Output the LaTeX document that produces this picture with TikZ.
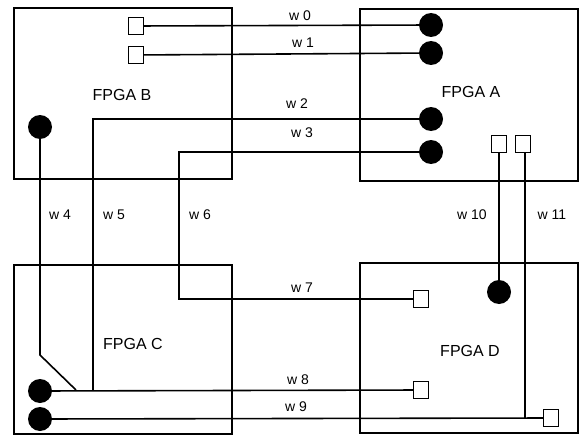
\documentclass[tikz,border=0pt]{standalone}
\usepackage{fontspec}
\setmainfont{Liberation Sans}
\usetikzlibrary{positioning}
\tikzset{
  fpgabox/.style={draw, line width=1.7pt, inner sep=0pt},
  pinsq/.style={draw, fill=white, line width=1.4pt, minimum width=15pt,
    minimum height=17pt, inner sep=0pt},
  pindot/.style={circle, fill=black, minimum size=24pt, inner sep=0pt},
  wire/.style={line width=1.6pt},
  wlabel/.style={font=\fontsize{14}{16}\selectfont, inner sep=0pt},
  fpgalabel/.style={font=\fontsize{16}{18}\selectfont, inner sep=0pt},
}

\begin{document}
\begin{tikzpicture}[x=1pt, y=-1pt]
\useasboundingbox (0, 0) rectangle (581, 436);

% The four FPGAs.
\node[fpgabox, minimum width=218pt, minimum height=171pt] (fpgaB) at (123, 93.5) {};
\node[fpgabox, minimum width=218pt, minimum height=172pt] (fpgaA) at (469, 95) {};
\node[fpgabox, minimum width=218pt, minimum height=169pt] (fpgaC) at (123, 349.5) {};
\node[fpgabox, minimum width=218pt, minimum height=170pt] (fpgaD) at (469, 348) {};
\node[fpgalabel] (nameB) at (122, 95) {FPGA B};
\node[fpgalabel] (nameA) at (471, 92) {FPGA A};
\node[fpgalabel] (nameC) at (133, 344) {FPGA C};
\node[fpgalabel] (nameD) at (470, 351) {FPGA D};

% Pins.
\node[pinsq] (b0) at (136, 26) {};
\node[pinsq] (b1) at (136, 55) {};
\node[pindot] (b4) at (40, 127) {};
\node[pindot] (a0) at (431, 25) {};
\node[pindot] (a1) at (431, 53) {};
\node[pindot] (a2) at (431, 119) {};
\node[pindot] (a3) at (431, 152) {};
\node[pinsq] (a10) at (499, 144) {};
\node[pinsq] (a11) at (523, 144) {};
\node[pindot] (c8) at (40, 391) {};
\node[pindot] (c9) at (40, 419) {};
\node[pinsq] (d7) at (421, 299) {};
\node[pinsq] (d8) at (421, 390) {};
\node[pinsq] (d9) at (551, 418) {};
\node[pindot] (d10) at (499, 292) {};

% Bends and junctions.
\coordinate (k4) at (40, 355);
\coordinate (j4) at (76, 390);
\coordinate (j5) at (93, 390);
\coordinate (t6) at (179, 299);
\coordinate (j11) at (525, 418);

% Wires.
\draw[wire] (b0) -- (a0);
\draw[wire] (b1) -- (a1);
\draw[wire] (a2) -| (j5);
\draw[wire] (a3) -| (t6) -- (d7);
\draw[wire] (b4) -- (k4) -- (j4);
\draw[wire] (c8) -- (d8);
\draw[wire] (c9) -- (d9);
\draw[wire] (a10) -- (d10);
\draw[wire] (a11.south -| j11) -- (j11);

% Wire labels.
\node[wlabel] (lw0) at (300, 16) {w 0};
\node[wlabel] (lw1) at (303, 43) {w 1};
\node[wlabel] (lw2) at (297, 104) {w 2};
\node[wlabel] (lw3) at (302, 133) {w 3};
\node[wlabel] (lw4) at (60, 215) {w 4};
\node[wlabel] (lw5) at (114, 215) {w 5};
\node[wlabel] (lw6) at (200, 215) {w 6};
\node[wlabel] (lw7) at (302, 288) {w 7};
\node[wlabel] (lw8) at (298, 380) {w 8};
\node[wlabel] (lw9) at (296, 407) {w 9};
\node[wlabel] (lw10) at (472, 215) {w 10};
\node[wlabel] (lw11) at (552, 215) {w 11};

\end{tikzpicture}
\end{document}
